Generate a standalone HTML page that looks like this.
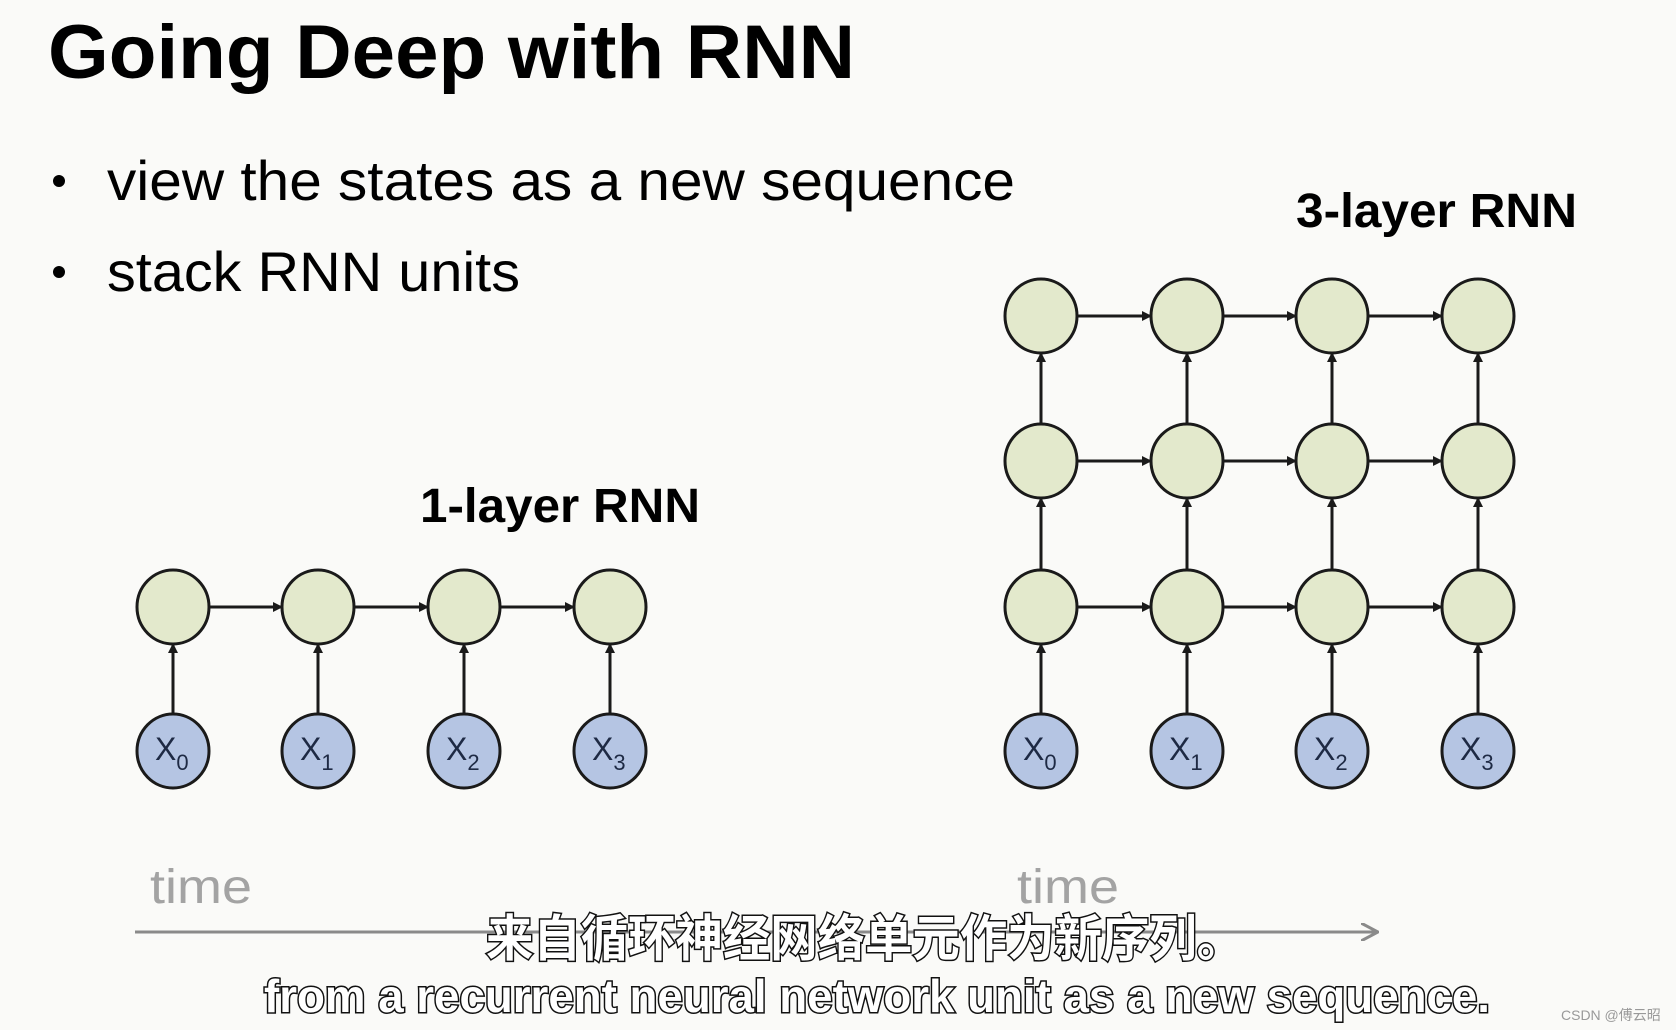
<!DOCTYPE html>
<html><head><meta charset="utf-8"><style>
html,body{margin:0;padding:0;background:#fafaf8;}
svg{display:block;}
</style></head><body>
<svg width="1676" height="1030" viewBox="0 0 1676 1030" xmlns="http://www.w3.org/2000/svg">
<defs>
<marker id="ah" markerWidth="10" markerHeight="10" refX="9" refY="5" orient="auto" markerUnits="userSpaceOnUse" viewBox="0 0 10 10">
<path d="M0,0 L10,5 L0,10 z" fill="#1a1a1a"/>
</marker>
<marker id="ah2" markerWidth="18" markerHeight="18" refX="17" refY="9" orient="auto" markerUnits="userSpaceOnUse" viewBox="0 0 18 18">
<path d="M0,0 L17,9 L0,18" fill="none" stroke="#8a8a8a" stroke-width="3"/>
</marker>
</defs>
<rect width="1676" height="1030" fill="#fafaf8"/>
<g font-family="'Liberation Sans', sans-serif" fill="#000">
<text x="48" y="78" font-size="76" font-weight="bold" textLength="807" lengthAdjust="spacingAndGlyphs">Going Deep with RNN</text>
<circle cx="59" cy="181" r="6"/>
<circle cx="59" cy="272" r="6"/>
<text x="107" y="200" font-size="56" textLength="908" lengthAdjust="spacingAndGlyphs">view the states as a new sequence</text>
<text x="107" y="291" font-size="56" textLength="413" lengthAdjust="spacingAndGlyphs">stack RNN units</text>
<text x="1296" y="227" font-size="48" font-weight="bold" textLength="281" lengthAdjust="spacingAndGlyphs">3-layer RNN</text>
<text x="420" y="522" font-size="48" font-weight="bold" textLength="280" lengthAdjust="spacingAndGlyphs">1-layer RNN</text>
<text x="150" y="903" font-size="48" fill="#a3a3a3" textLength="102" lengthAdjust="spacingAndGlyphs">time</text>
<text x="1017" y="903" font-size="48" fill="#a3a3a3" textLength="102" lengthAdjust="spacingAndGlyphs">time</text>
</g>
<line x1="135" y1="932" x2="1378" y2="932" stroke="#8a8a8a" stroke-width="3" marker-end="url(#ah2)"/>

<g id="d" stroke="#1a1a1a" stroke-width="3">
<!-- 1-layer -->
<g>
<line x1="173" y1="714" x2="173" y2="644" marker-end="url(#ah)"/>
<line x1="318" y1="714" x2="318" y2="644" marker-end="url(#ah)"/>
<line x1="464" y1="714" x2="464" y2="644" marker-end="url(#ah)"/>
<line x1="610" y1="714" x2="610" y2="644" marker-end="url(#ah)"/>
<line x1="209" y1="607" x2="282" y2="607" marker-end="url(#ah)"/>
<line x1="354" y1="607" x2="428" y2="607" marker-end="url(#ah)"/>
<line x1="500" y1="607" x2="574" y2="607" marker-end="url(#ah)"/>
</g>
<g fill="#e3e9cc">
<ellipse cx="173" cy="607" rx="36" ry="37"/><ellipse cx="318" cy="607" rx="36" ry="37"/>
<ellipse cx="464" cy="607" rx="36" ry="37"/><ellipse cx="610" cy="607" rx="36" ry="37"/>
</g>
<g fill="#b5c5e3">
<ellipse cx="173" cy="751" rx="36" ry="37"/><ellipse cx="318" cy="751" rx="36" ry="37"/>
<ellipse cx="464" cy="751" rx="36" ry="37"/><ellipse cx="610" cy="751" rx="36" ry="37"/>
</g>
<!-- 3-layer verticals -->
<g>
<line x1="1041" y1="714" x2="1041" y2="644" marker-end="url(#ah)"/>
<line x1="1187" y1="714" x2="1187" y2="644" marker-end="url(#ah)"/>
<line x1="1332" y1="714" x2="1332" y2="644" marker-end="url(#ah)"/>
<line x1="1478" y1="714" x2="1478" y2="644" marker-end="url(#ah)"/>
<line x1="1041" y1="570" x2="1041" y2="498" marker-end="url(#ah)"/>
<line x1="1187" y1="570" x2="1187" y2="498" marker-end="url(#ah)"/>
<line x1="1332" y1="570" x2="1332" y2="498" marker-end="url(#ah)"/>
<line x1="1478" y1="570" x2="1478" y2="498" marker-end="url(#ah)"/>
<line x1="1041" y1="424" x2="1041" y2="353" marker-end="url(#ah)"/>
<line x1="1187" y1="424" x2="1187" y2="353" marker-end="url(#ah)"/>
<line x1="1332" y1="424" x2="1332" y2="353" marker-end="url(#ah)"/>
<line x1="1478" y1="424" x2="1478" y2="353" marker-end="url(#ah)"/>
</g>
<g>
<line x1="1077" y1="316" x2="1151" y2="316" marker-end="url(#ah)"/>
<line x1="1223" y1="316" x2="1296" y2="316" marker-end="url(#ah)"/>
<line x1="1368" y1="316" x2="1442" y2="316" marker-end="url(#ah)"/>
<line x1="1077" y1="461" x2="1151" y2="461" marker-end="url(#ah)"/>
<line x1="1223" y1="461" x2="1296" y2="461" marker-end="url(#ah)"/>
<line x1="1368" y1="461" x2="1442" y2="461" marker-end="url(#ah)"/>
<line x1="1077" y1="607" x2="1151" y2="607" marker-end="url(#ah)"/>
<line x1="1223" y1="607" x2="1296" y2="607" marker-end="url(#ah)"/>
<line x1="1368" y1="607" x2="1442" y2="607" marker-end="url(#ah)"/>
</g>
<g fill="#e3e9cc">
<ellipse cx="1041" cy="316" rx="36" ry="37"/><ellipse cx="1187" cy="316" rx="36" ry="37"/><ellipse cx="1332" cy="316" rx="36" ry="37"/><ellipse cx="1478" cy="316" rx="36" ry="37"/>
<ellipse cx="1041" cy="461" rx="36" ry="37"/><ellipse cx="1187" cy="461" rx="36" ry="37"/><ellipse cx="1332" cy="461" rx="36" ry="37"/><ellipse cx="1478" cy="461" rx="36" ry="37"/>
<ellipse cx="1041" cy="607" rx="36" ry="37"/><ellipse cx="1187" cy="607" rx="36" ry="37"/><ellipse cx="1332" cy="607" rx="36" ry="37"/><ellipse cx="1478" cy="607" rx="36" ry="37"/>
</g>
<g fill="#b5c5e3">
<ellipse cx="1041" cy="751" rx="36" ry="37"/><ellipse cx="1187" cy="751" rx="36" ry="37"/><ellipse cx="1332" cy="751" rx="36" ry="37"/><ellipse cx="1478" cy="751" rx="36" ry="37"/>
</g>
</g>

<g font-family="'Liberation Sans', sans-serif" fill="#1e2a44">
<text x="155" y="760" font-size="32">X<tspan font-size="22" dy="10">0</tspan></text>
<text x="300" y="760" font-size="32">X<tspan font-size="22" dy="10">1</tspan></text>
<text x="446" y="760" font-size="32">X<tspan font-size="22" dy="10">2</tspan></text>
<text x="592" y="760" font-size="32">X<tspan font-size="22" dy="10">3</tspan></text>
<text x="1023" y="760" font-size="32">X<tspan font-size="22" dy="10">0</tspan></text>
<text x="1169" y="760" font-size="32">X<tspan font-size="22" dy="10">1</tspan></text>
<text x="1314" y="760" font-size="32">X<tspan font-size="22" dy="10">2</tspan></text>
<text x="1460" y="760" font-size="32">X<tspan font-size="22" dy="10">3</tspan></text>
</g>

<g font-family="'Liberation Sans', 'Noto Sans CJK SC', sans-serif" fill="#fff" stroke="#111" stroke-width="3" paint-order="stroke" font-weight="bold">
<text x="486" y="956" font-size="50" textLength="758" lengthAdjust="spacingAndGlyphs">来自循环神经网络单元作为新序列。</text>
<text x="264" y="1012" font-size="46" textLength="1226" lengthAdjust="spacingAndGlyphs">from a recurrent neural network unit as a new sequence.</text>
</g>
<text x="1561" y="1020" font-family="'Liberation Sans', 'Noto Sans CJK SC', sans-serif" font-size="14" fill="#999">CSDN @傅云昭</text>
</svg>
</body></html>
